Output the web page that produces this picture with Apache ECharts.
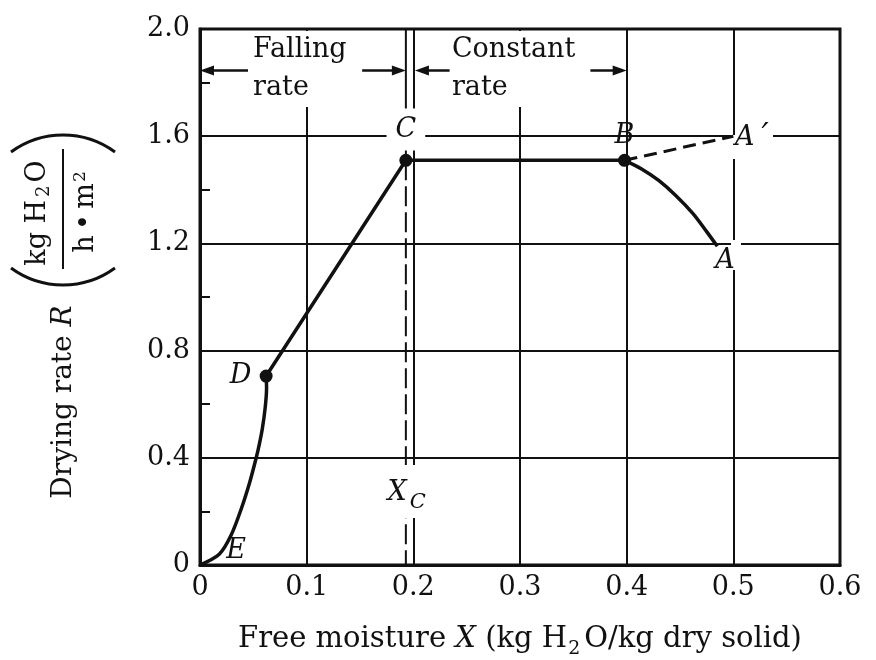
<!DOCTYPE html>
<html><head><meta charset="utf-8">
<script src="https://cdn.jsdelivr.net/npm/echarts@6/dist/echarts.min.js"></script>
<style>html,body{margin:0;padding:0;background:#fff}#c{width:876px;height:660px}</style>
</head><body><div id="c"></div>
<script>
// ---------------- data ----------------
const xTickLabels = ['0', '0.1', '0.2', '0.3', '0.4', '0.5', '0.6'];
const yTickLabels = ['0', '0.4', '0.8', '1.2', '1.6', '2.0'];
// falling-rate curve E -> D
const curveED_X = [0, 0.018, 0.029, 0.0387, 0.0467, 0.0527, 0.0556, 0.0585, 0.0612, 0.0624, 0.062];
const curveED_R = [0, 0.04, 0.11, 0.21, 0.31, 0.40, 0.45, 0.51, 0.59, 0.66, 0.705];
// straight segments D -> C -> B
const lineDCB_X = [0.062, 0.193, 0.398];
const lineDCB_R = [0.705, 1.51, 1.51];
// initial curve B -> A
const curveBA_X = [0.398, 0.414, 0.430, 0.446, 0.462, 0.475, 0.485];
const curveBA_R = [1.51, 1.478, 1.435, 1.379, 1.312, 1.244, 1.189];
// dashed B -> A'
const dashBA_X = [0.398, 0.5];
const dashBA_R = [1.51, 1.6];
// critical moisture content Xc
const criticalX = 0.193;
// marked points
const pointNames = ['C', 'B', 'D'];
const pointX = [0.193, 0.398, 0.062];
const pointR = [1.51, 1.51, 0.705];

// ---------------- chart ----------------
const black = '#111';
const serif = 'DejaVu Serif';
const zip = (xs, ys) => xs.map((x, i) => [x, ys[i]]);

const base = { show: true, position: 'inside', fontFamily: serif, color: black, fontSize: 27 };
const gap = (w, h) => ({ show: true, position: 'inside', formatter: ' ', width: w, height: h,
  backgroundColor: '#fff', align: 'left', verticalAlign: 'top', padding: 0, fontSize: 10 });
const lbl = (o) => Object.assign({}, base, o);

const annotations = [
  { value: [0.0469, 1.851], label: lbl({ formatter: 'Falling\nrate', align: 'left', verticalAlign: 'middle', lineHeight: 38, backgroundColor: '#fff', padding: [0, 4, 0, 3] }) },
  { value: [0.2334, 1.851], label: lbl({ formatter: 'Constant\nrate', align: 'left', verticalAlign: 'middle', lineHeight: 38, backgroundColor: '#fff', padding: [0, 4, 0, 3] }) },
  { value: [criticalX, 1.625], label: lbl({ formatter: 'C', fontStyle: 'italic', align: 'center', verticalAlign: 'middle', lineHeight: 27, backgroundColor: '#fff', padding: [14, 9, 1, 9] }) },
  { value: [0.398, 1.6], label: lbl({ formatter: 'B', fontStyle: 'italic', align: 'center', verticalAlign: 'middle' }) },
  { value: [0.4978, 1.6045], label: gap(42, 24) },
  { value: [0.5016, 1.6], label: lbl({ formatter: '{a|A}{p|\u2032}', align: 'left', verticalAlign: 'middle',
      rich: { a: { fontFamily: serif, fontStyle: 'italic', fontSize: 27, lineHeight: 27, color: black, verticalAlign: 'top', padding: [4, 0, 0, 0] },
              p: { fontFamily: serif, fontStyle: 'italic', fontSize: 32, lineHeight: 32, color: black, verticalAlign: 'top', padding: [0, 0, 0, 7] } } }) },
  { value: [0.4978, 1.2127], label: gap(10, 30) },
  { value: [0.4922, 1.134], label: lbl({ formatter: 'A', fontStyle: 'italic', align: 'center', verticalAlign: 'middle' }) },
  { value: [0.038, 0.705], label: lbl({ formatter: 'D', fontStyle: 'italic', align: 'center', verticalAlign: 'middle' }) },
  { value: [0.0338, 0.052], label: lbl({ formatter: 'E', fontStyle: 'italic', align: 'center', verticalAlign: 'middle' }) },
  { value: [0.1725, 0.373], label: gap(46, 53) },
  { value: [0.1758, 0.2705], label: lbl({ formatter: '{x|X}{c|C}', align: 'left', verticalAlign: 'middle',
      rich: { x: { fontFamily: serif, fontStyle: 'italic', fontSize: 27, lineHeight: 27, color: black, verticalAlign: 'top' },
              c: { fontFamily: serif, fontStyle: 'italic', fontSize: 21, lineHeight: 21, color: black, verticalAlign: 'top', padding: [13, 0, 0, 3] } } }) }
];

const arrowR = 1.845;
const arrowHalf = 7 / (640 / 0.6);
const arrowSegs = [[0.045, 0], [0.152, criticalX], [0.234, 0.2015], [0.366, 0.4]];
const arrowData = arrowSegs.map(s => {
  const dir = s[1] > s[0] ? 1 : -1;
  return [{ coord: [s[0], arrowR], symbol: 'none' },
          { coord: [s[1] - dir * arrowHalf, arrowR], symbol: 'triangle', symbolSize: [10, 14] }];
});

const curveStyle = { color: black, width: 3.5 };
const solidItem = { color: black, opacity: 1 };

const option = {
  animation: false,
  backgroundColor: '#fff',
  grid: { left: 200, right: 36, top: 29, bottom: 95, outerBoundsMode: 'none', containLabel: false,
    show: true, borderColor: black, borderWidth: 3, backgroundColor: 'transparent' },
  xAxis: {
    type: 'value', min: 0, max: 0.6, interval: 0.1,
    axisLine: { show: true, lineStyle: { color: black, width: 3 } },
    axisTick: { show: false },
    splitLine: { show: true, lineStyle: { color: black, width: 2 } },
    axisLabel: { fontFamily: serif, fontSize: 27, color: black, margin: 9,
      formatter: v => xTickLabels[Math.round(v / 0.1)] },
    name: '{n|Free moisture }{i|X}{n| (kg H}{s|2}{n|O/kg dry solid)}',
    nameLocation: 'middle', nameGap: 60,
    nameTextStyle: { fontFamily: serif, fontSize: 29, color: black,
      rich: {
        n: { fontFamily: serif, fontSize: 29, lineHeight: 29, color: black, verticalAlign: 'top' },
        i: { fontFamily: serif, fontStyle: 'italic', fontSize: 29, lineHeight: 29, color: black, verticalAlign: 'top' },
        s: { fontFamily: serif, fontSize: 19, lineHeight: 19, color: black, verticalAlign: 'top', padding: [15, 4, 0, 1] }
      } }
  },
  yAxis: {
    type: 'value', min: 0, max: 2.0, interval: 0.4,
    axisLine: { show: true, lineStyle: { color: black, width: 3 } },
    axisTick: { show: true, inside: true, length: 10, lineStyle: { color: black, width: 2 } },
    minorTick: { show: true, splitNumber: 2, length: 10, lineStyle: { color: black, width: 2 } },
    splitLine: { show: true, lineStyle: { color: black, width: 2 } },
    axisLabel: { fontFamily: serif, fontSize: 27, color: black, margin: 10,
      formatter: v => yTickLabels[Math.round(v / 0.4)] }
  },
  series: [
    { type: 'line', data: [[criticalX, 2.0], [criticalX, lineDCB_R[1]]], symbol: 'none', silent: true,
      lineStyle: { color: black, width: 2 }, z: 1 },
    { type: 'line', data: [[criticalX, lineDCB_R[1]], [criticalX, 0]], symbol: 'none', silent: true,
      lineStyle: { color: black, width: 2, type: [20, 6] }, z: 1 },
    { type: 'scatter', data: annotations, symbolSize: 1, itemStyle: { color: 'rgba(0,0,0,0)', opacity: 1 }, silent: true, z: 2 },
    { type: 'line', data: [[0, arrowR]], symbol: 'none', silent: true, lineStyle: { width: 0 }, z: 3,
      markLine: { silent: true, animation: false, symbol: ['none', 'triangle'], symbolSize: 14,
        lineStyle: { color: black, width: 2.5, type: 'solid', opacity: 1 }, itemStyle: { color: black },
        label: { show: false }, emphasis: { disabled: true }, data: arrowData } },
    { type: 'line', data: zip(curveED_X, curveED_R), smooth: 0.3, symbol: 'none', silent: true, lineStyle: curveStyle, z: 3 },
    { type: 'line', data: zip(lineDCB_X, lineDCB_R), symbol: 'none', silent: true, lineStyle: curveStyle, z: 3 },
    { type: 'line', data: zip(curveBA_X, curveBA_R), smooth: 0.3, symbol: 'none', silent: true, lineStyle: curveStyle, z: 3 },
    { type: 'line', data: zip(dashBA_X, dashBA_R), symbol: 'none', silent: true,
      lineStyle: { color: black, width: 3, type: [13, 7] }, z: 3 },
    { type: 'scatter', name: 'points', data: pointNames.map((n, i) => ({ name: n, value: [pointX[i], pointR[i]] })),
      symbolSize: 13, itemStyle: solidItem, silent: true, z: 4 }
  ],
  graphic: [
    { type: 'text', x: 64, y: 402, rotation: Math.PI / 2, z: 5,
      style: { text: '{n|Drying rate }{i|R}', align: 'center', verticalAlign: 'middle',
        rich: { n: { fontFamily: serif, fontSize: 28, fill: black }, i: { fontFamily: serif, fontStyle: 'italic', fontSize: 28, fill: black } } } },
    { type: 'text', x: 38, y: 213, rotation: Math.PI / 2, z: 5,
      style: { text: '{n|kg H}{s|2}{n|O}', align: 'center', verticalAlign: 'middle',
        rich: { n: { fontFamily: serif, fontSize: 27, lineHeight: 27, fill: black, verticalAlign: 'top' },
                s: { fontFamily: serif, fontSize: 18, lineHeight: 18, fill: black, verticalAlign: 'top', padding: [11, 3, 0, 3] } } } },
    { type: 'line', shape: { x1: 63, y1: 149, x2: 63, y2: 269 }, style: { stroke: black, lineWidth: 2 }, z: 5 },
    { type: 'text', x: 86, y: 212, rotation: Math.PI / 2, z: 5,
      style: { text: '{n|h\u2009\u2022\u2009m}{p|2}', align: 'center', verticalAlign: 'middle',
        rich: { n: { fontFamily: serif, fontSize: 27, lineHeight: 27, fill: black, verticalAlign: 'top' },
                p: { fontFamily: serif, fontSize: 17, lineHeight: 17, fill: black, verticalAlign: 'top', padding: [0, 0, 0, 1] } } } },
    { type: 'arc', shape: { cx: 63, cy: 223, r: 88, startAngle: -Math.PI / 2 - 0.632, endAngle: -Math.PI / 2 + 0.632 },
      style: { stroke: black, lineWidth: 3, fill: null }, z: 5 },
    { type: 'arc', shape: { cx: 63, cy: 197, r: 88, startAngle: Math.PI / 2 - 0.632, endAngle: Math.PI / 2 + 0.632 },
      style: { stroke: black, lineWidth: 3, fill: null }, z: 5 }
  ]
};

const chart = echarts.init(document.getElementById('c'), null, { renderer: 'canvas' });
chart.setOption(option);
</script>
</body></html>
